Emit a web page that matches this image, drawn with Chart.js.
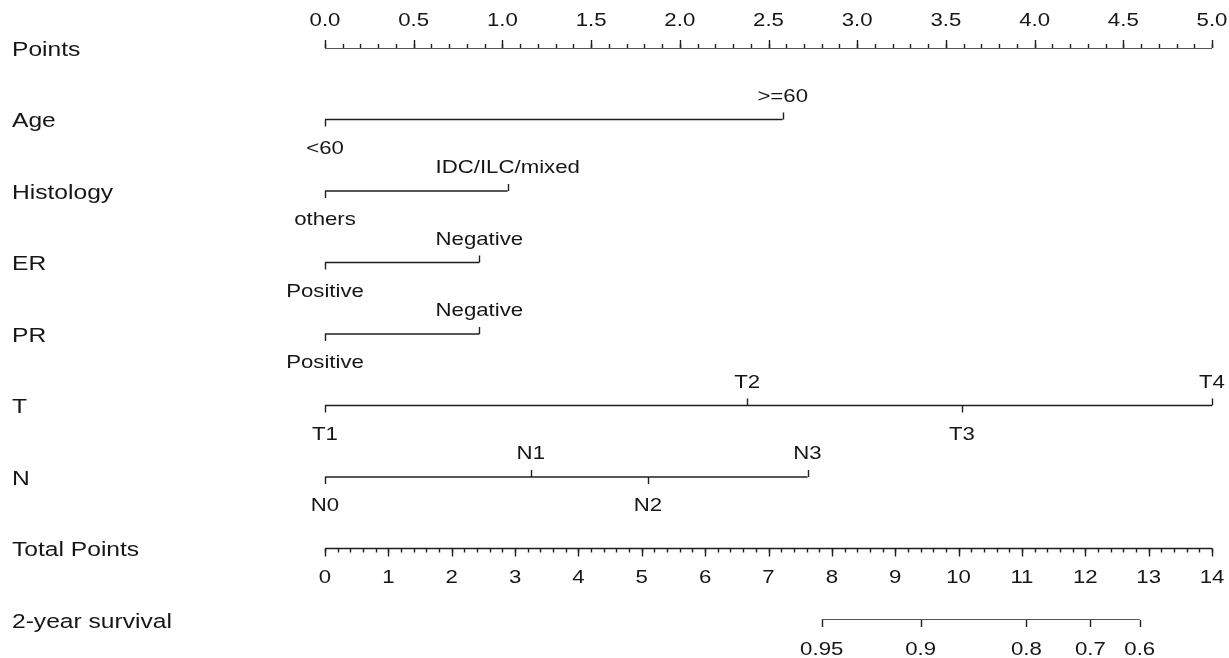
<!DOCTYPE html>
<html>
<head>
  <title>Nomogram - 2-year survival</title>
  <script src="https://cdn.jsdelivr.net/npm/chart.js"></script>
  <style>
    html, body { margin: 0; padding: 0; background: #fff; }
    #wrap { width: 1229px; height: 658px; }
  </style>
</head>
<body>
  <div id="wrap"><canvas id="nomo"></canvas></div>

  <script>
    // row names, top to bottom
    var rowNames = ['Points', 'Age', 'Histology', 'ER', 'PR', 'T', 'N', 'Total Points', '2-year survival'];

    // points scale
    var pointTicks = [0, 0.5, 1, 1.5, 2, 2.5, 3, 3.5, 4, 4.5, 5];
    var pointLabels = ['0.0', '0.5', '1.0', '1.5', '2.0', '2.5', '3.0', '3.5', '4.0', '4.5', '5.0'];
    var pointMinorStep = 0.1;

    // predictors: levels and their points
    var ageLevels = ['<60', '>=60'];
    var ageScores = [0, 2.58];
    var histLevels = ['others', 'IDC/ILC/mixed'];
    var histScores = [0, 1.03];
    var erLevels = ['Positive', 'Negative'];
    var erScores = [0, 0.87];
    var prLevels = ['Positive', 'Negative'];
    var prScores = [0, 0.87];
    var tLevels = ['T1', 'T2', 'T3', 'T4'];
    var tScores = [0, 2.38, 3.59, 5.0];
    var nLevels = ['N0', 'N1', 'N2', 'N3'];
    var nScores = [0, 1.16, 1.82, 2.72];

    // total points scale
    var totalTicks = [0, 1, 2, 3, 4, 5, 6, 7, 8, 9, 10, 11, 12, 13, 14];
    var totalMinorStep = 0.2;

    // 2-year survival, placed on total points
    var survLabels = ['0.95', '0.9', '0.8', '0.7', '0.6'];
    var survTotals = [7.84, 9.40, 11.07, 12.08, 12.86];

    var predictors = [
      { row: 1, levels: ageLevels, scores: ageScores },
      { row: 2, levels: histLevels, scores: histScores },
      { row: 3, levels: erLevels, scores: erScores },
      { row: 4, levels: prLevels, scores: prScores },
      { row: 5, levels: tLevels, scores: tScores },
      { row: 6, levels: nLevels, scores: nScores }
    ];

    var LINE = '#1f1f1f';
    var TEXT = '#161616';
    var STRETCH = 1.2;   // reference text is a bit wide

    function pts(xs, row) {
      return xs.map(function (v) { return { x: v, y: row }; });
    }

    var datasets = [
      { data: pts([pointTicks[0], pointTicks[pointTicks.length - 1]], 0) }
    ];
    predictors.forEach(function (p) {
      datasets.push({ data: pts(p.scores, p.row) });
    });
    datasets.push({ data: pts([totalTicks[0], totalTicks[totalTicks.length - 1]], 7), xAxisID: 'x2' });
    datasets.push({ data: pts(survTotals, 8), xAxisID: 'x2' });
    datasets.forEach(function (d) {
      d.borderColor = LINE;
      d.borderWidth = 1.5;
      d.pointRadius = 0;
      d.fill = false;
      d.tension = 0;
    });

    function txt(ctx, s, x, y, align) {
      ctx.save();
      ctx.translate(x, y);
      ctx.scale(STRETCH, 1);
      ctx.textAlign = align || 'center';
      ctx.fillText(s, 0, 0);
      ctx.restore();
    }

    // ticks and labels drawn through the chart's scales
    var nomoPlugin = {
      id: 'nomo',
      afterDatasetsDraw: function (chart) {
        var ctx = chart.ctx;
        var xs = chart.scales.x, x2 = chart.scales.x2, ys = chart.scales.y;
        ctx.save();
        ctx.strokeStyle = LINE;
        ctx.lineWidth = 1.4;
        ctx.fillStyle = TEXT;
        ctx.textBaseline = 'middle';

        function tick(px, py, len) {
          ctx.beginPath();
          ctx.moveTo(Math.round(px) + 0.5, py);
          ctx.lineTo(Math.round(px) + 0.5, py + len);
          ctx.stroke();
        }

        // row titles
        ctx.font = '20.5px "Liberation Sans", Arial, sans-serif';
        rowNames.forEach(function (n, i) {
          txt(ctx, n, 12, ys.getPixelForValue(i) + 2, 'left');
        });

        ctx.font = '18.5px "Liberation Sans", Arial, sans-serif';

        // points axis, ticks up, labels above
        var y0 = ys.getPixelForValue(0);
        var pMax = pointTicks[pointTicks.length - 1];
        for (var v = 0; v <= pMax + 1e-9; v += pointMinorStep) {
          tick(xs.getPixelForValue(v), y0, -4);
        }
        pointTicks.forEach(function (v, i) {
          var px = xs.getPixelForValue(v);
          tick(px, y0, -8);
          txt(ctx, pointLabels[i], px, y0 - 27);
        });

        // predictors, labels alternate below / above
        predictors.forEach(function (p) {
          var py = ys.getPixelForValue(p.row);
          p.scores.forEach(function (s, i) {
            var px = xs.getPixelForValue(s);
            var up = i % 2 === 1;
            tick(px, py, up ? -7 : 7);
            txt(ctx, p.levels[i], px, up ? py - 23 : py + 29);
          });
        });

        // total points, ticks down, labels below
        var y7 = ys.getPixelForValue(7);
        var tMax = totalTicks[totalTicks.length - 1];
        for (var w = 0; w <= tMax + 1e-9; w += totalMinorStep) {
          tick(x2.getPixelForValue(w), y7, 4);
        }
        totalTicks.forEach(function (v) {
          var px = x2.getPixelForValue(v);
          tick(px, y7, 8);
          txt(ctx, String(v), px, y7 + 29);
        });

        // survival
        var y8 = ys.getPixelForValue(8);
        survTotals.forEach(function (v, i) {
          var px = x2.getPixelForValue(v);
          tick(px, y8, 7);
          txt(ctx, survLabels[i], px, y8 + 30);
        });

        ctx.restore();
      }
    };

    var ctx = document.getElementById('nomo').getContext('2d');
    var chart = new Chart(ctx, {
      type: 'line',
      data: { datasets: datasets },
      options: {
        responsive: true,
        maintainAspectRatio: false,
        animation: false,
        events: [],
        layout: { padding: { left: 325, right: 17, top: 48, bottom: 38 } },
        plugins: { legend: { display: false }, tooltip: { enabled: false } },
        scales: {
          x: { type: 'linear', min: 0, max: 5, display: false },
          x2: { type: 'linear', axis: 'x', min: 0, max: 14, display: false },
          y: { type: 'linear', min: 0, max: 8, reverse: true, display: false }
        }
      },
      plugins: [nomoPlugin]
    });
  </script>
</body>
</html>
